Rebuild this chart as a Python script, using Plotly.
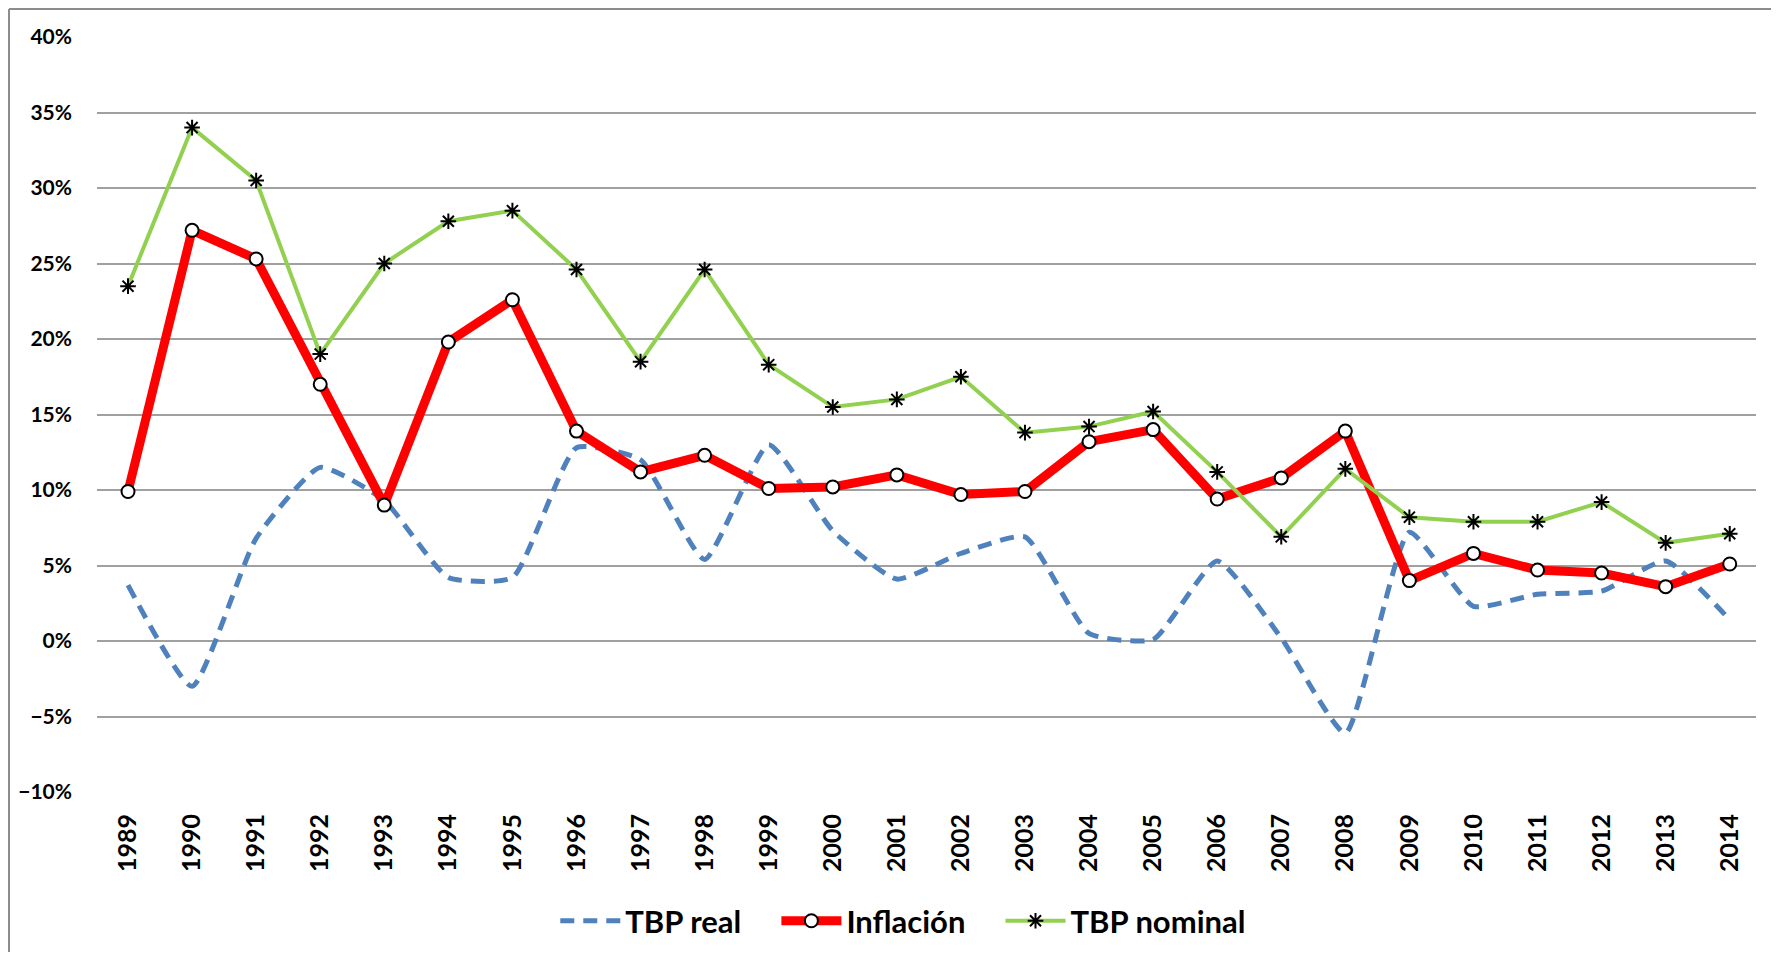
import plotly.graph_objects as go

years = [str(y) for y in range(1989, 2015)]

tbp_real = [3.7, -3.0, 6.8, 11.5, 9.3, 4.2, 4.2, 12.8, 12.0, 5.4, 13.0, 7.3, 4.1,
            5.8, 6.9, 0.5, 0.1, 5.3, 0.2, -6.1, 7.2, 2.3, 3.1, 3.3, 5.3, 1.4]
inflacion = [9.9, 27.2, 25.3, 17.0, 9.0, 19.8, 22.6, 13.9, 11.2, 12.3, 10.1, 10.2, 11.0,
             9.7, 9.9, 13.2, 14.0, 9.4, 10.8, 13.9, 4.0, 5.8, 4.7, 4.5, 3.6, 5.1]
tbp_nominal = [23.5, 34.0, 30.5, 19.0, 25.0, 27.8, 28.5, 24.6, 18.5, 24.6, 18.3, 15.5, 16.0,
               17.5, 13.8, 14.2, 15.2, 11.2, 6.9, 11.4, 8.2, 7.9, 7.9, 9.2, 6.5, 7.1]

FONT = "Lato"
PAD = "\u00a0" * 4  # extra room between legend entries

fig = go.Figure()

fig.add_trace(go.Scatter(x=years, y=tbp_real, name="TBP real" + PAD, mode="lines",
                         line=dict(color="#4F81BD", width=5, dash="14px,9px",
                                   shape="spline", smoothing=0.5)))
fig.add_trace(go.Scatter(x=years, y=inflacion, name="Inflación" + PAD, mode="lines+markers",
                         line=dict(color="#FF0000", width=9),
                         marker=dict(symbol="circle", size=13, color="white",
                                     line=dict(color="black", width=2))))
fig.add_trace(go.Scatter(x=years, y=tbp_nominal, name="TBP nominal", mode="lines+markers",
                         line=dict(color="#92D050", width=4),
                         marker=dict(symbol="asterisk-open", size=13, color="black",
                                     line=dict(color="black", width=2))))

# page body has an 8px margin, so the figure is 16px smaller and shifted
# plot area 1659 x 755 px, outer frame 1px inside the figure's top-left
fx = (1 - 89) / 1659
fy = 1 + (29 - 1) / 755
frame = dict(color="#8C8C8C", width=2)

fig.update_layout(
    width=1763, height=944,
    margin=dict(l=89, r=15, t=29, b=160, autoexpand=False),
    paper_bgcolor="white", plot_bgcolor="white",
    font=dict(family=FONT, color="black", weight="bold"),
    showlegend=True,
    legend=dict(orientation="h", x=0.486, xanchor="center", y=-0.171, yanchor="middle",
                font=dict(family=FONT, size=31, weight="bold"), itemwidth=60),
    xaxis=dict(type="category", range=[-0.484, 25.41], tickangle=-90, showgrid=False,
               showline=False, ticks="", ticklabelstandoff=16, automargin=False,
               tickfont=dict(family=FONT, size=25, weight="bold")),
    yaxis=dict(range=[-10, 40], dtick=5, ticksuffix="%", showgrid=True,
               gridcolor="#A0A0A0", gridwidth=1.5, zeroline=False, showline=False,
               ticks="", ticklabelstandoff=24, automargin=False,
               tickfont=dict(family=FONT, size=21, weight="bold")),
    shapes=[
        dict(type="line", xref="paper", yref="paper", x0=fx, x1=1.2, y0=fy, y1=fy, line=frame),
        dict(type="line", xref="paper", yref="paper", x0=fx, x1=fx, y0=-0.5, y1=fy, line=frame),
    ],
)

fig.write_html("out.html")
